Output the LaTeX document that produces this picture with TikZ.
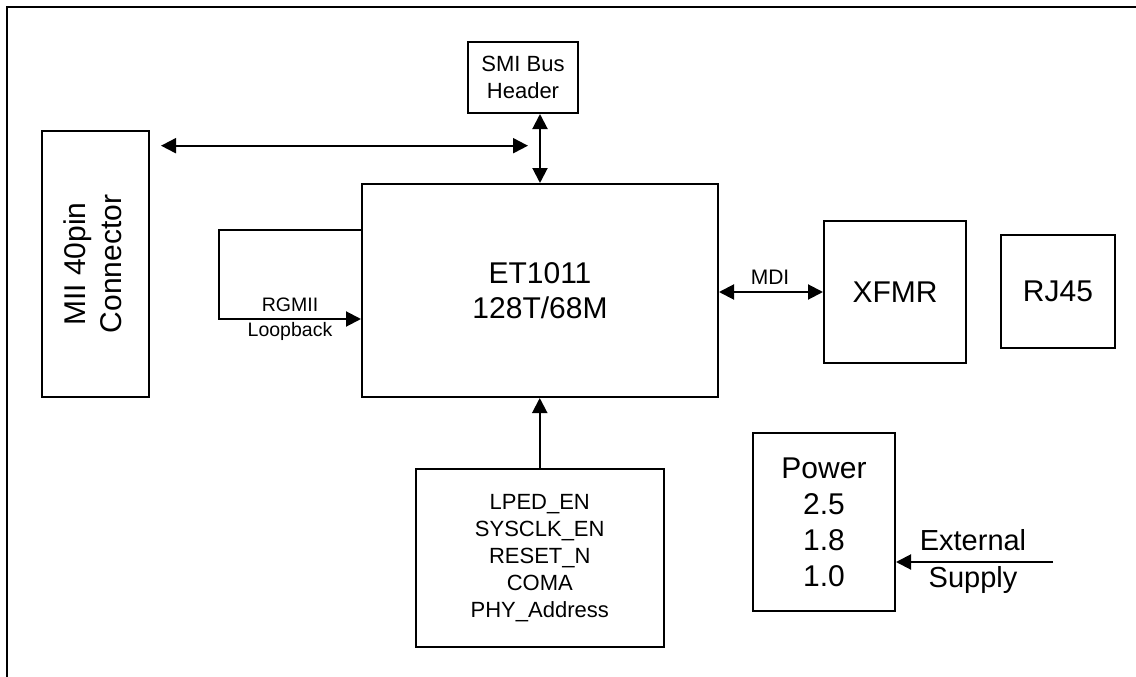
\documentclass[tikz,border=0pt]{standalone}
\usepackage{fontspec}
\setmainfont{Liberation Sans}
\usetikzlibrary{arrows.meta}
\begin{document}
\begin{tikzpicture}[x=1pt,y=-1pt,
  blk/.style={draw,line width=2pt,inner sep=0pt,align=center},
  conn/.style={line width=2pt},
  tip/.style={-{Triangle[length=15pt,width=15pt]}},
  dtip/.style={{Triangle[length=15pt,width=15pt]}-{Triangle[length=15pt,width=15pt]}},
  big/.style={font=\fontsize{30}{36}\selectfont},
  mid/.style={font=\fontsize{22}{27}\selectfont},
  sml/.style={font=\fontsize{19.5}{25}\selectfont}]
\useasboundingbox (0,0) rectangle (1136,677);
\clip (0,0) rectangle (1136,677);
\draw[line width=2pt] (6.5,720) -- (6.5,7) -- (1180,7);
% blocks
\node[blk,mid,minimum width=110pt,minimum height=71pt] (smi) at (523,77.5) {SMI Bus\\Header};
\node[blk,minimum width=107pt,minimum height=266pt] (mii) at (95.5,264) {};
\node[big,rotate=90,align=center] (miitxt) at (93,264) {MII 40pin\\Connector};
\node[blk,big,minimum width=356pt,minimum height=213pt,font=\fontsize{30}{35}\selectfont] (et) at (540,290.5) {ET1011\\128T/68M};
\node[blk,big,minimum width=142pt,minimum height=142pt] (xfmr) at (895,292) {XFMR};
\node[blk,big,minimum width=114pt,minimum height=113pt] (rj) at (1058,291.5) {RJ45};
\node[blk,mid,minimum width=248.5pt,minimum height=178pt] (ctl) at (539.75,558) {LPED\_EN\\SYSCLK\_EN\\RESET\_N\\COMA\\PHY\_Address};
\node[blk,big,minimum width=142pt,minimum height=178pt] (pwr) at (824,522) {Power\\2.5\\1.8\\1.0};
% connectors
\coordinate (busL) at (161,145.7);
\coordinate (busR) at (528,145.7);
\draw[conn,dtip] (busL) -- (busR);
\draw[conn,dtip] (et.north |- smi.south) -- (et.north);
\coordinate (lpA) at (362,230);
\coordinate (lpB) at (219,230);
\coordinate (lpC) at (219,319);
\draw[conn,tip] (lpA) -- (lpB) -- (lpC) -- (et.west |- lpC);
\node[sml,align=center] (rgmii) at (290,319.5) {RGMII\\Loopback};
\draw[conn,dtip] (et.east |- xfmr.west) -- (xfmr.west);
\node[font=\fontsize{21}{25}\selectfont] (mdi) at (770,277) {MDI};
\draw[conn,tip] (ctl.north) -- (ctl.north |- et.south);
\coordinate (ext) at (1053,562);
\draw[conn,tip] (ext) -- (pwr.east |- ext);
\node[font=\fontsize{29}{37}\selectfont,align=center] (extl) at (973,561.5) {External\\Supply};
\end{tikzpicture}
\end{document}
